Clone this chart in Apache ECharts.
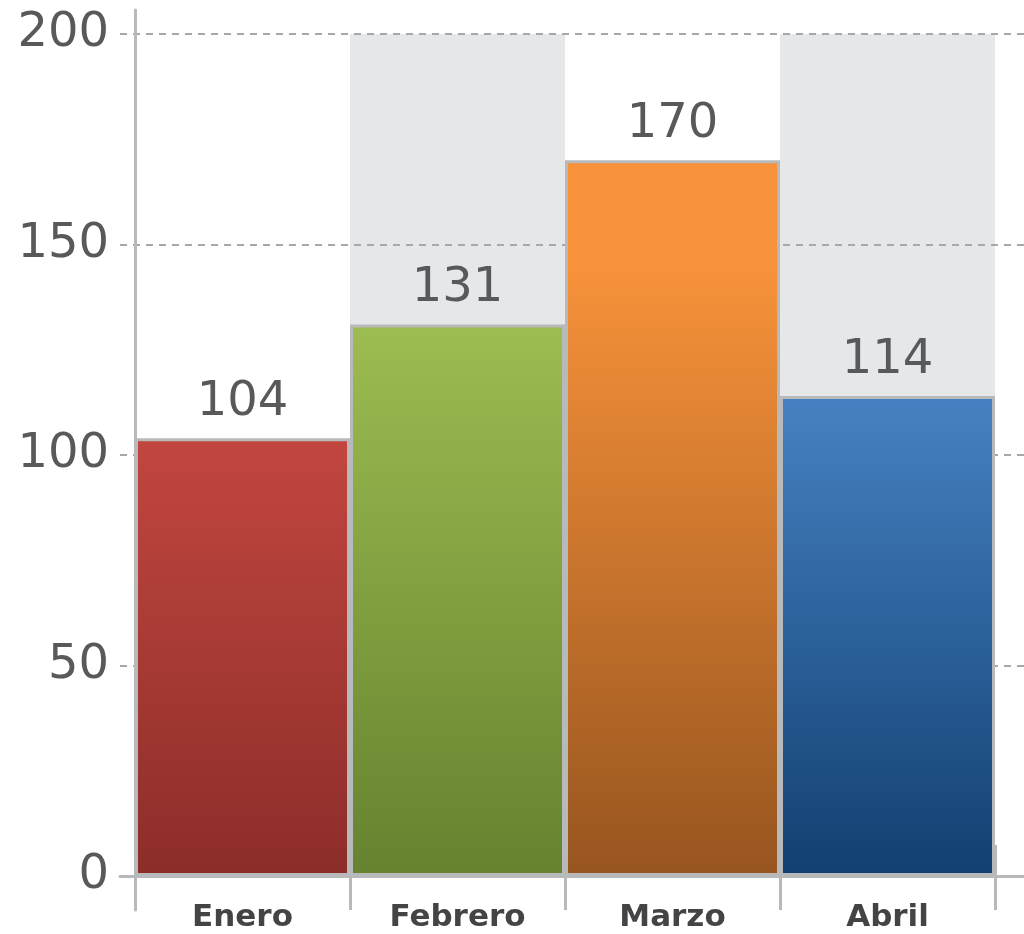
<!DOCTYPE html>
<html>
<head>
<meta charset="utf-8">
<script src="https://cdn.jsdelivr.net/npm/echarts@6/dist/echarts.min.js"></script>
<style>
  html, body { margin: 0; padding: 0; background: #fff; }
  #chart { width: 1024px; height: 934px; }
</style>
</head>
<body>
<div id="chart"></div>
<script>
// datos
const categories = ['Enero', 'Febrero', 'Marzo', 'Abril'];
const values = [104, 131, 170, 114];
const yMin = 0;
const yMax = 200;
const yStep = 50;

// colores de degradado (arriba, abajo) por mes
const barColors = [
  ['#c2463f', '#8c2d2a'],
  ['#9dbc51', '#66822f'],
  ['#f7923a', '#97551f'],
  ['#4682c2', '#123f71']
];

const textColor = '#58595b';
const lineColor = '#b8b9bb';
const font = '"DejaVu Sans", sans-serif';

const chart = echarts.init(document.getElementById('chart'));

function gradient(pair, idx) {
  // Marzo se mantiene brillante más tiempo arriba
  const stops = idx === 2
    ? [{ offset: 0, color: pair[0] }, { offset: 0.15, color: pair[0] }, { offset: 1, color: pair[1] }]
    : [{ offset: 0, color: pair[0] }, { offset: 1, color: pair[1] }];
  return { type: 'linear', x: 0, y: 0, x2: 0, y2: 1, colorStops: stops };
}

const option = {
  animation: false,
  backgroundColor: '#ffffff',
  grid: [
    { left: 135, right: 29, top: 34, bottom: 58 },   // barras
    { left: 120, right: 0, top: 34, bottom: 58 },    // líneas punteadas
    { left: 135, right: 29, top: 10, bottom: 24 }    // marco y marcas
  ],
  xAxis: [
    {
      gridIndex: 0,
      type: 'category',
      data: categories,
      z: 0,
      axisLine: { show: false },
      axisTick: { show: false },
      axisLabel: { margin: 26, fontSize: 31, fontWeight: 'bold', color: '#444446', fontFamily: font },
      splitArea: { show: true, areaStyle: { color: ['rgba(255,255,255,0)', '#e6e7e8'] } }
    },
    {
      gridIndex: 1,
      type: 'category',
      data: [''],
      z: 5,
      axisLine: { show: true, lineStyle: { color: lineColor, width: 3 } },
      axisTick: { show: false },
      axisLabel: { show: false }
    },
    {
      gridIndex: 2,
      type: 'category',
      data: categories,
      z: 5,
      axisLine: { show: false },
      axisTick: { show: true, inside: true, length: 65, interval: 0, lineStyle: { color: lineColor, width: 3 } },
      axisLabel: { show: false }
    }
  ],
  yAxis: [
    {
      gridIndex: 0,
      type: 'value',
      min: yMin,
      max: yMax,
      interval: yStep,
      axisLine: { show: false },
      axisTick: { show: false },
      splitLine: { show: false },
      axisLabel: { margin: 26, fontSize: 48, color: textColor, fontFamily: font }
    },
    {
      gridIndex: 1,
      type: 'value',
      min: yMin,
      max: yMax,
      interval: yStep,
      z: 1,
      axisLine: { show: false },
      axisTick: { show: false },
      axisLabel: { show: false },
      splitLine: { show: true, lineStyle: { color: '#a7a8aa', width: 2, type: [7, 6] } }
    },
    {
      gridIndex: 2,
      type: 'value',
      z: 5,
      axisLine: { show: true, lineStyle: { color: lineColor, width: 3 } },
      axisTick: { show: false },
      axisLabel: { show: false },
      splitLine: { show: false }
    }
  ],
  series: [
    {
      type: 'bar',
      xAxisIndex: 0,
      yAxisIndex: 0,
      z: 3,
      barCategoryGap: '0%',
      data: values.map((v, i) => ({
        value: v,
        itemStyle: {
          color: gradient(barColors[i], i),
          borderColor: lineColor,
          borderWidth: 3
        }
      })),
      label: {
        show: true,
        position: 'top',
        distance: 12,
        fontSize: 48,
        color: textColor,
        fontFamily: font
      }
    }
  ]
};

chart.setOption(option);
</script>
</body>
</html>
